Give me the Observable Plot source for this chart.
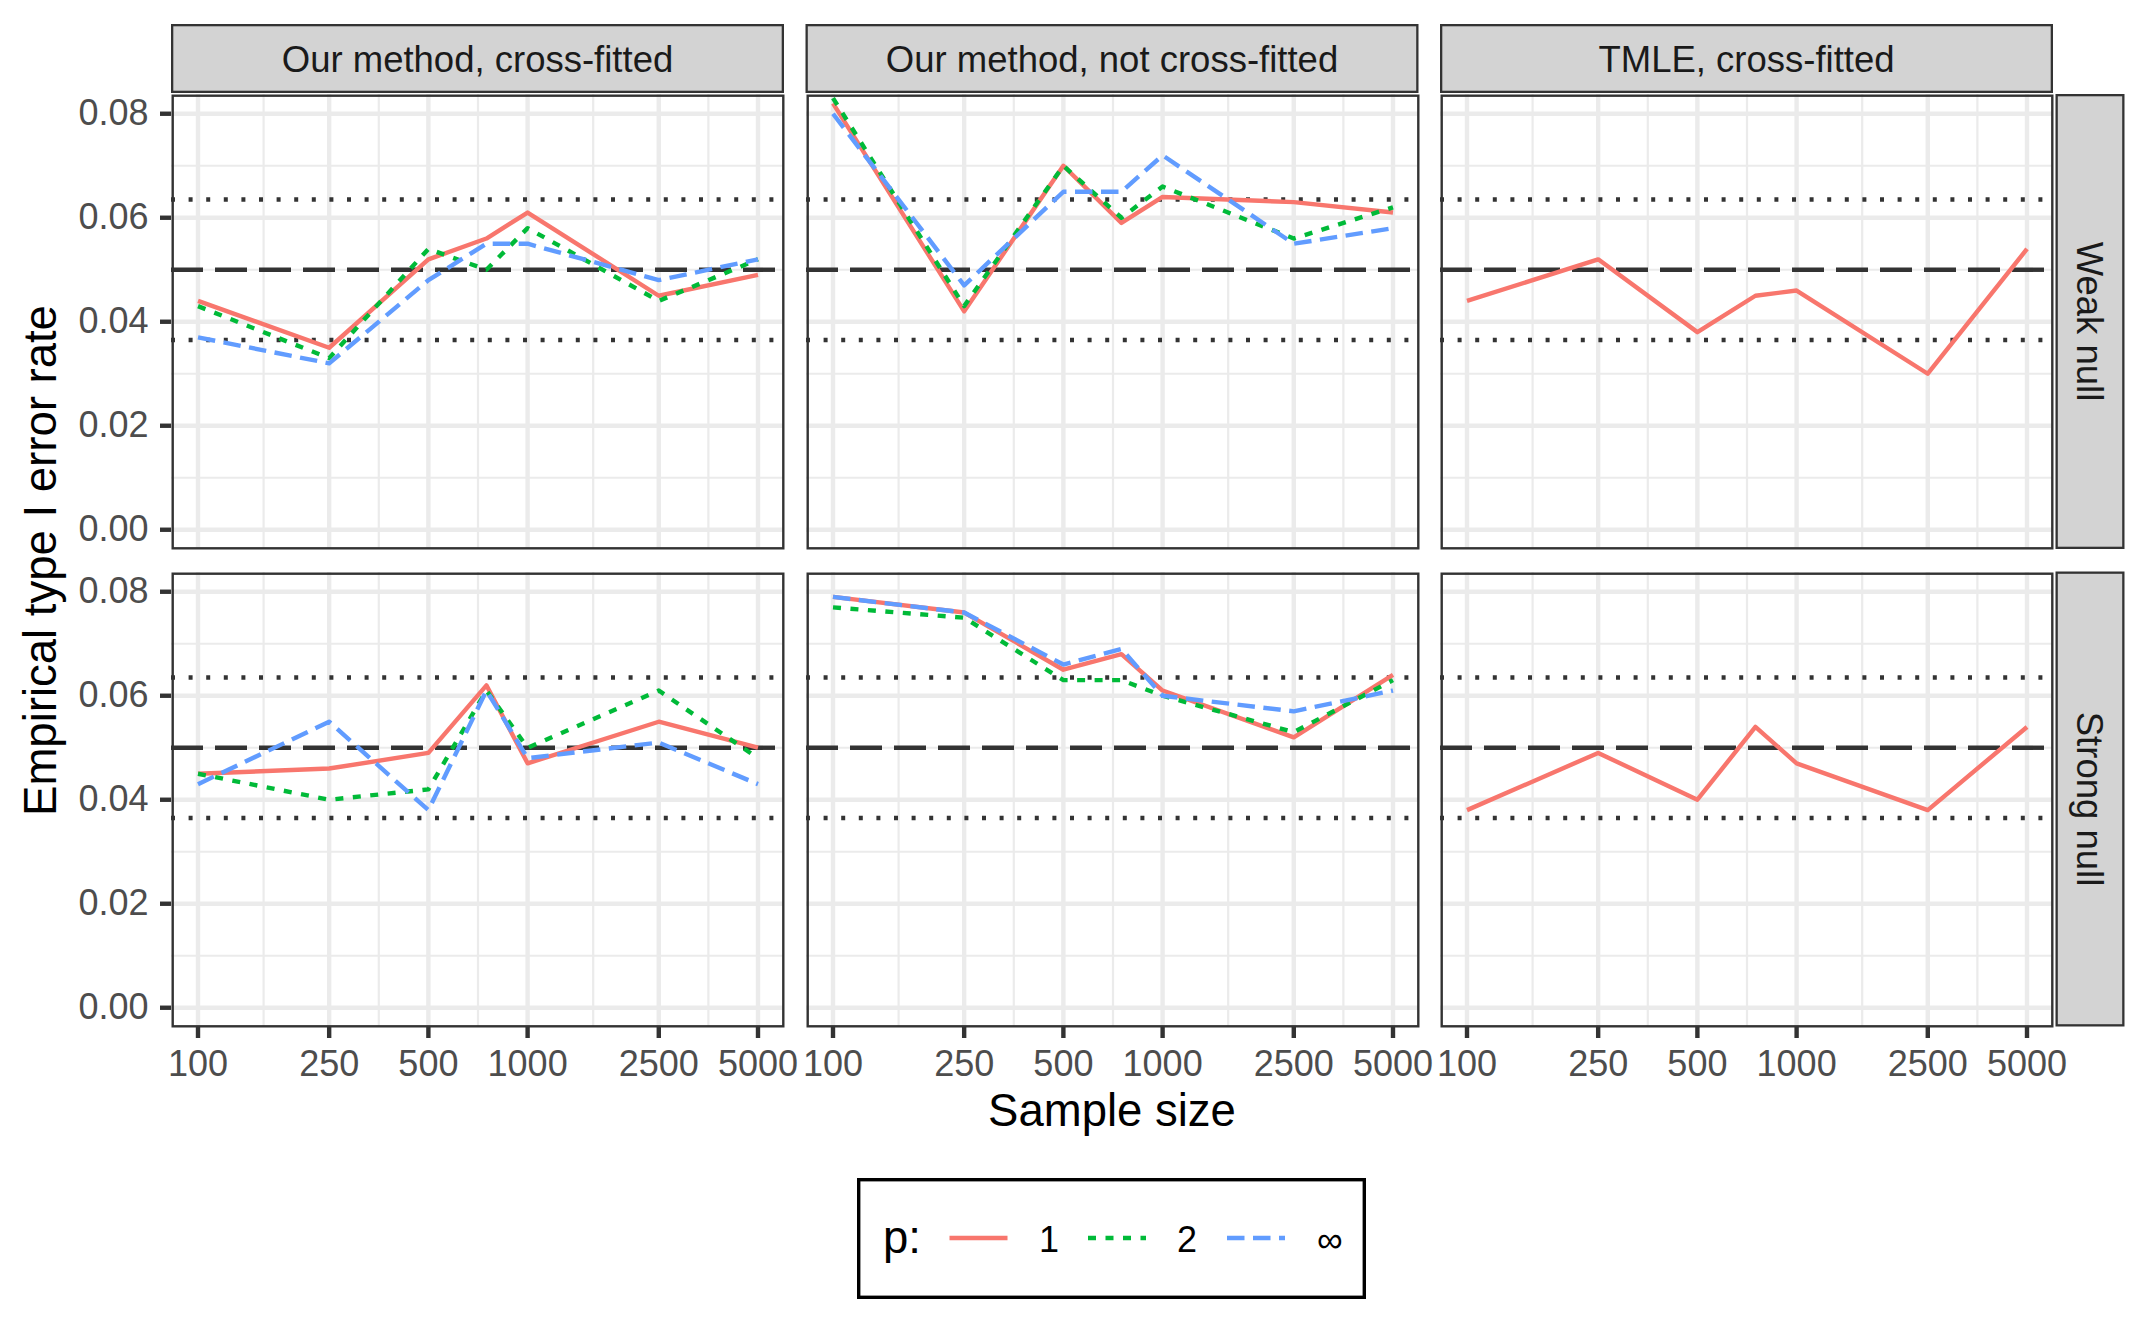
<!DOCTYPE html>
<html><head><meta charset="utf-8">
<script src="https://cdn.jsdelivr.net/npm/d3@7"></script>
<script src="https://cdn.jsdelivr.net/npm/@observablehq/plot@0.6"></script>
<style>
html,body{margin:0;padding:0;background:#fff;}
#root{position:relative;width:2145px;height:1320px;font-family:"Liberation Sans",Arial,sans-serif;overflow:hidden;background:#fff;}
.cell{position:absolute;}
</style></head>
<body><div id="root"></div>
<script>
// ---------- data ----------
const sampleSizes = [100, 250, 500, 750, 1000, 2500, 5000];
const pLevels = ["1", "2", "∞"];
const pColors = ["#F8766D", "#00BA38", "#619CFF"];
const methods = ["Our method, cross-fitted", "Our method, not cross-fitted", "TMLE, cross-fitted"];
const nullTypes = ["Weak null", "Strong null"];

const weakCrossP1   = [0.044, 0.035, 0.052, 0.056, 0.061, 0.045, 0.049];
const weakCrossP2   = [0.043, 0.033, 0.054, 0.050, 0.058, 0.044, 0.052];
const weakCrossPInf = [0.037, 0.032, 0.048, 0.055, 0.055, 0.048, 0.052];

const weakNoCrossP1   = [0.082, 0.042, 0.070, 0.059, 0.064, 0.063, 0.061];
const weakNoCrossP2   = [0.083, 0.043, 0.070, 0.060, 0.066, 0.056, 0.062];
const weakNoCrossPInf = [0.080, 0.047, 0.065, 0.065, 0.072, 0.055, 0.058];

const weakTmleP1 = [0.044, 0.052, 0.038, 0.045, 0.046, 0.030, 0.054];

const strongCrossP1   = [0.045, 0.046, 0.049, 0.062, 0.047, 0.055, 0.050];
const strongCrossP2   = [0.045, 0.040, 0.042, 0.061, 0.050, 0.061, 0.048];
const strongCrossPInf = [0.043, 0.055, 0.038, 0.061, 0.048, 0.051, 0.043];

const strongNoCrossP1   = [0.079, 0.076, 0.065, 0.068, 0.061, 0.052, 0.064];
const strongNoCrossP2   = [0.077, 0.075, 0.063, 0.063, 0.060, 0.053, 0.063];
const strongNoCrossPInf = [0.079, 0.076, 0.066, 0.069, 0.060, 0.057, 0.061];

const strongTmleP1 = [0.038, 0.049, 0.040, 0.054, 0.047, 0.038, 0.054];

const nominalLevel = [0.05];
const mcBounds = [0.0365, 0.0635];

const xTicks = [100, 250, 500, 1000, 2500, 5000];
const yTicks = [0, 0.02, 0.04, 0.06, 0.08];
const yMinor = [0.01, 0.03, 0.05, 0.07];

const series = [
  [nullTypes[0], methods[0], "1", weakCrossP1], [nullTypes[0], methods[0], "2", weakCrossP2], [nullTypes[0], methods[0], "∞", weakCrossPInf],
  [nullTypes[0], methods[1], "1", weakNoCrossP1], [nullTypes[0], methods[1], "2", weakNoCrossP2], [nullTypes[0], methods[1], "∞", weakNoCrossPInf],
  [nullTypes[0], methods[2], "1", weakTmleP1],
  [nullTypes[1], methods[0], "1", strongCrossP1], [nullTypes[1], methods[0], "2", strongCrossP2], [nullTypes[1], methods[0], "∞", strongCrossPInf],
  [nullTypes[1], methods[1], "1", strongNoCrossP1], [nullTypes[1], methods[1], "2", strongNoCrossP2], [nullTypes[1], methods[1], "∞", strongNoCrossPInf],
  [nullTypes[1], methods[2], "1", strongTmleP1]
];
const rows = series.flatMap(([nul, method, p, vals]) => vals.map((v, i) => ({nul, method, p, n: sampleSizes[i], rate: v})));

// ---------- layout ----------
const PW = 613, PH = 455;
const colLeft = [171, 805.5, 1440];
const rowTop = [94, 571.5];
const xDomain = [83.1, 6017];
const yDomain = [-0.0038, 0.0837];
const xMinor = d3.pairs(xTicks, (a, b) => Math.sqrt(a * b));
const dashes = {"1": null, "2": "8,9.5", "∞": "17.5,8.5"};
const LW = 4.4;
const STRIP = "#D3D3D3";

const root = document.getElementById("root");

nullTypes.forEach((nul, r) => {
  methods.forEach((method, c) => {
    const isLeft = c === 0, isBottom = r === 1;
    const ml = isLeft ? 171 : 0;
    const mb = isBottom ? 80 : 0;
    const panelRows = rows.filter(d => d.nul === nul && d.method === method);
    const marks = [
      Plot.ruleY(yMinor, {stroke: "#EBEBEB", strokeWidth: 2.2}),
      Plot.ruleX(xMinor, {stroke: "#EBEBEB", strokeWidth: 2.2}),
      Plot.ruleY(yTicks, {stroke: "#EBEBEB", strokeWidth: LW}),
      Plot.ruleX(xTicks, {stroke: "#EBEBEB", strokeWidth: LW}),
      Plot.ruleY(mcBounds, {stroke: "#333333", strokeWidth: LW, strokeDasharray: "4,13.6"}),
      Plot.ruleY(nominalLevel, {stroke: "#333333", strokeWidth: LW, strokeDasharray: "32,12"}),
      ...pLevels.map(p => Plot.line(panelRows.filter(d => d.p === p), {
        x: "n", y: "rate", stroke: "p", strokeWidth: LW,
        strokeDasharray: dashes[p], strokeLinejoin: "round", strokeLinecap: "butt"
      })),
      Plot.frame({stroke: "#333333", strokeWidth: 2.4, inset: 1.2})
    ];
    if (isLeft) marks.push(Plot.axisY({
      ticks: yTicks, tickSize: 11, tickPadding: 12, fontSize: 36,
      tickFormat: d3.format(".2f"), stroke: "#333333", strokeWidth: LW, fill: "#4D4D4D", label: null
    }));
    if (isBottom) marks.push(Plot.axisX({
      ticks: xTicks, tickSize: 11, tickPadding: 12, fontSize: 36,
      tickFormat: d => String(d), stroke: "#333333", strokeWidth: LW, fill: "#4D4D4D", label: null
    }));
    const xOpt = {type: "log", domain: xDomain};
    const yOpt = {domain: yDomain};
    if (!isBottom) xOpt.axis = null;
    if (!isLeft) yOpt.axis = null;
    const svg = Plot.plot({
      width: ml + PW, height: PH + mb,
      marginLeft: ml, marginRight: 0, marginTop: 0, marginBottom: mb,
      x: xOpt, y: yOpt,
      color: {domain: pLevels, range: pColors},
      style: {background: "transparent", overflow: "visible", maxWidth: "none", fontFamily: "'Liberation Sans', Arial, sans-serif"},
      marks
    });
    const div = document.createElement("div");
    div.className = "cell";
    div.style.left = (colLeft[c] - ml) + "px";
    div.style.top = rowTop[r] + "px";
    div.appendChild(svg);
    root.appendChild(div);
  });
});

// ---------- strips, titles, legend ----------
const ov = d3.select(root).append("svg")
  .attr("width", 2145).attr("height", 1320)
  .style("position", "absolute").style("left", 0).style("top", 0)
  .style("pointer-events", "none")
  .style("font-family", "'Liberation Sans', Arial, sans-serif");

methods.forEach((m, c) => {
  ov.append("rect").attr("x", colLeft[c] + 1.15).attr("y", 24 + 1.15)
    .attr("width", PW - 2.3).attr("height", 69 - 2.3)
    .attr("fill", STRIP).attr("stroke", "#333333").attr("stroke-width", 2.3);
  ov.append("text").attr("x", colLeft[c] + PW / 2).attr("y", 72)
    .attr("text-anchor", "middle").attr("font-size", 36.5).attr("fill", "#1A1A1A").text(m);
});
nullTypes.forEach((n, r) => {
  const sx = 2055.5, sw = 69;
  ov.append("rect").attr("x", sx + 1.15).attr("y", rowTop[r] + 1.15)
    .attr("width", sw - 2.3).attr("height", PH - 2.3)
    .attr("fill", STRIP).attr("stroke", "#333333").attr("stroke-width", 2.3);
  ov.append("text").attr("transform", `translate(${sx + sw / 2 - 13},${rowTop[r] + PH / 2}) rotate(90)`)
    .attr("text-anchor", "middle").attr("font-size", 36.5).attr("fill", "#1A1A1A").text(n);
});

ov.append("text").attr("transform", "translate(56,560.5) rotate(-90)")
  .attr("text-anchor", "middle").attr("font-size", 45.5).attr("fill", "#000").text("Empirical type I error rate");
ov.append("text").attr("x", 1112).attr("y", 1126)
  .attr("text-anchor", "middle").attr("font-size", 45.5).attr("fill", "#000").text("Sample size");

// legend
ov.append("rect").attr("x", 857 + 1.7).attr("y", 1178 + 1.7).attr("width", 509 - 3.4).attr("height", 121 - 3.4)
  .attr("fill", "#fff").attr("stroke", "#000").attr("stroke-width", 3.4);
ov.append("text").attr("x", 883).attr("y", 1253).attr("font-size", 45.5).attr("fill", "#000").text("p:");
const keyX = [949.5, 1088, 1227];
const labX = [1039, 1177, 1317];
pLevels.forEach((p, i) => {
  ov.append("line").attr("x1", keyX[i]).attr("x2", keyX[i] + 58).attr("y1", 1238).attr("y2", 1238)
    .attr("stroke", pColors[i]).attr("stroke-width", LW)
    .attr("stroke-dasharray", dashes[p] || null);
  ov.append("text").attr("x", labX[i]).attr("y", 1251.5).attr("font-size", 36).attr("fill", "#000").text(p);
});
</script>
</body></html>
